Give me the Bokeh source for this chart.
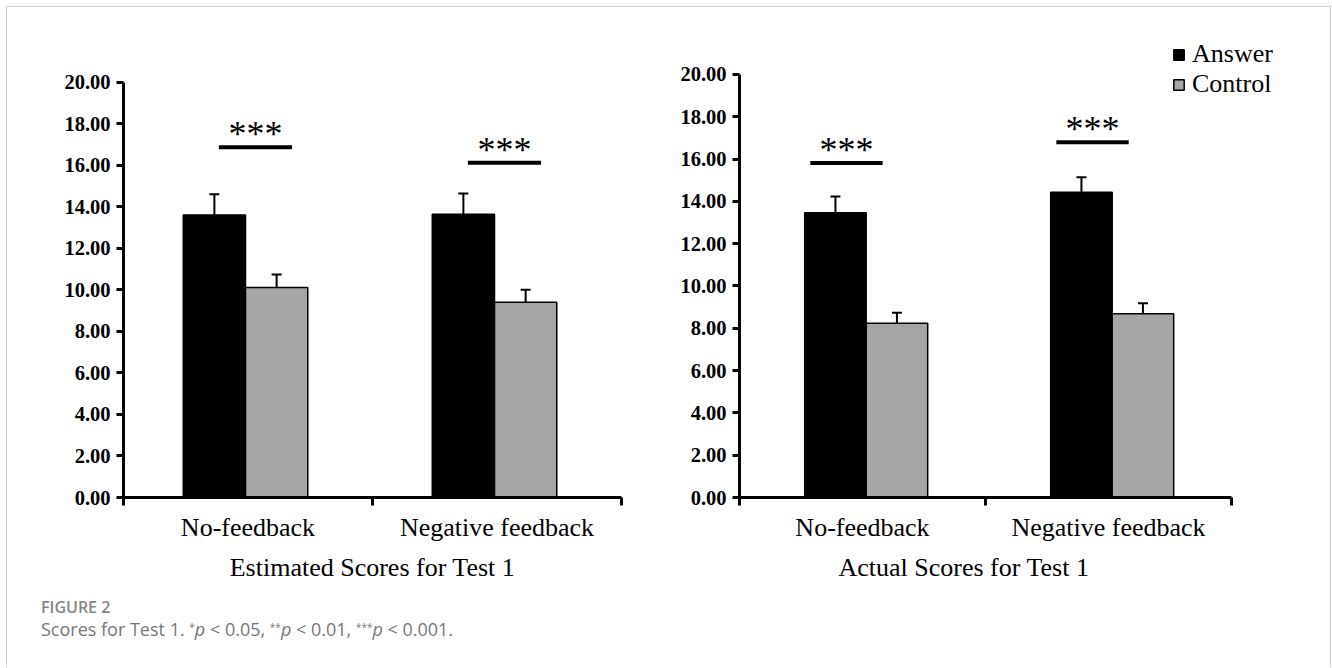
from bokeh.plotting import figure
from bokeh.models import (Range1d, FixedTicker, Whisker, TeeHead, ColumnDataSource,
                          Legend, LegendItem, Div, NumeralTickFormatter, Title)
from bokeh.layouts import row, column
from bokeh.transform import dodge
from bokeh.core.properties import value
from bokeh.embed import file_html
from bokeh.resources import INLINE

# ---------------- data ----------------
categories = ["No-feedback", "Negative feedback"]
groups = ["Answer", "Control"]

est_answer = [13.62, 13.65]
est_answer_err = [1.00, 1.00]
est_control = [10.12, 9.41]
est_control_err = [0.63, 0.60]

act_answer = [13.46, 14.43]
act_answer_err = [0.77, 0.71]
act_control = [8.24, 8.69]
act_control_err = [0.50, 0.50]

est_sig_y = [16.88, 16.13]
act_sig_y = [15.81, 16.80]
sig_labels = ["***", "***"]

yticks = [0, 2, 4, 6, 8, 10, 12, 14, 16, 18, 20]

est_title = "Estimated Scores for Test 1"
act_title = "Actual Scores for Test 1"

SERIF = "Liberation Serif"
BLACK = "#000000"
GRAY = "#a6a6a6"


def make_panel(title, answer, answer_err, control, control_err, sig_y,
               width, ymax, xmax, min_left, min_right, sig_shift, bar_shift,
               title_offset=None, legend=False):
    n = len(categories)
    centers = [i + 0.5 for i in range(n)]
    src = ColumnDataSource(dict(
        x=[c + bar_shift for c in centers],
        answer=answer,
        control=control,
        a_up=[v + e for v, e in zip(answer, answer_err)],
        a_lo=[v - e for v, e in zip(answer, answer_err)],
        c_up=[v + e for v, e in zip(control, control_err)],
        c_lo=[v - e for v, e in zip(control, control_err)],
        sig=sig_y,
        lab=sig_labels,
        sx=[c + sig_shift for c in centers],
        sx0=[c + sig_shift - 0.147 for c in centers],
        sx1=[c + sig_shift + 0.147 for c in centers],
    ))

    p = figure(width=width, height=590, output_backend="svg", toolbar_location=None,
               x_range=Range1d(0, xmax), y_range=Range1d(0, ymax),
               min_border_left=min_left, min_border_right=min_right,
               min_border_top=23, min_border_bottom=100)
    p.outline_line_color = None
    p.grid.grid_line_color = None
    p.background_fill_color = "white"
    p.border_fill_color = "white"

    r_a = p.vbar(x=dodge("x", -0.125), top="answer", width=0.25, source=src,
                 fill_color=BLACK, line_color=BLACK, line_width=1.5)
    r_c = p.vbar(x=dodge("x", 0.125), top="control", width=0.25, source=src,
                 fill_color=GRAY, line_color=BLACK, line_width=1.5)

    for up, lo, off in (("a_up", "a_lo", -0.125), ("c_up", "c_lo", 0.125)):
        w = Whisker(base=dodge("x", off), upper=up, lower=lo, source=src,
                    line_color=BLACK, line_width=2,
                    upper_head=TeeHead(size=10, line_width=2, line_color=BLACK),
                    lower_head=TeeHead(size=10, line_width=2, line_color=BLACK))
        p.add_layout(w)

    p.segment(x0="sx0", x1="sx1", y0="sig", y1="sig", source=src,
              line_color=BLACK, line_width=4)
    p.text(x="sx", y="sig", text="lab", source=src, text_align="center",
           text_baseline="alphabetic", y_offset=-13,
           text_font=value(SERIF), text_font_size="36px", text_color=BLACK)

    # y axis
    ya = p.yaxis[0]
    ya.ticker = FixedTicker(ticks=yticks)
    ya.formatter = NumeralTickFormatter(format="0.00")
    ya.bounds = (0, 20)
    ya.axis_line_width = 3
    ya.major_tick_line_width = 3
    ya.major_tick_out = 7
    ya.major_tick_in = 0
    ya.minor_tick_line_color = None
    ya.major_label_standoff = 6
    ya.major_label_text_font = SERIF
    ya.major_label_text_font_style = "bold"
    ya.major_label_text_font_size = "20.5px"
    ya.major_label_text_color = BLACK

    # x axis: boundary ticks as minor ticks, labels at category centres
    xa = p.xaxis[0]
    xa.ticker = FixedTicker(ticks=centers, minor_ticks=list(range(n + 1)))
    xa.major_label_overrides = {c: cat for c, cat in zip(centers, categories)}
    xa.bounds = (0, n)
    xa.axis_line_width = 3
    xa.major_tick_line_color = None
    xa.major_tick_out = 8
    xa.major_tick_in = 0
    xa.minor_tick_line_width = 3
    xa.minor_tick_out = 8
    xa.minor_tick_in = 0
    xa.major_label_standoff = 7
    xa.major_label_text_font = SERIF
    xa.major_label_text_font_size = "26px"
    xa.major_label_text_color = BLACK
    if title_offset is None:
        xa.axis_label = title
        xa.axis_label_standoff = 8
        xa.axis_label_text_font = SERIF
        xa.axis_label_text_font_style = "normal"
        xa.axis_label_text_font_size = "26px"
        xa.axis_label_text_color = BLACK
    else:
        t = Title(text=title, align="left", offset=title_offset, vertical_align="top",
                  standoff=16, text_font=SERIF, text_font_style="normal",
                  text_font_size="26px", text_color=BLACK)
        p.add_layout(t, "below")

    if legend:
        lg = Legend(items=[LegendItem(label=groups[0], renderers=[r_a]),
                           LegendItem(label=groups[1], renderers=[r_c])],
                    location=(433, 398), padding=0, margin=0, spacing=0,
                    glyph_width=13, glyph_height=13, label_standoff=7,
                    label_text_font=SERIF, label_text_font_size="26px",
                    label_text_color=BLACK, label_height=29,
                    background_fill_alpha=0, border_line_color=None)
        p.add_layout(lg)
    return p


p1 = make_panel(est_title, est_answer, est_answer_err, est_control, est_control_err,
                est_sig_y, width=646, ymax=22.506, xmax=2, min_left=116, min_right=32,
                sig_shift=0.03, bar_shift=-0.01)
p2 = make_panel(act_title, act_answer, act_answer_err, act_control, act_control_err,
                act_sig_y, width=677, ymax=22.08, xmax=2 + 70 / 246, min_left=86, min_right=29,
                sig_shift=-0.065, bar_shift=0.015, title_offset=99, legend=True)

caption = Div(
    text=("<div style=\"font-family:'Open Sans',sans-serif; padding-left:29px; margin-top:-5px;\">"
          "<div style=\"font-size:16px; color:#858585; font-weight:600; line-height:20px;\">FIGURE 2</div>"
          "<div style=\"font-size:18px; color:#777777; line-height:24px;\">Scores for Test 1. "
          "<span style='font-size:10px; vertical-align:0.5em; line-height:0'>*</span><i>p</i> &lt; 0.05, "
          "<span style='font-size:10px; vertical-align:0.5em; line-height:0'>**</span><i>p</i> &lt; 0.01, "
          "<span style='font-size:10px; vertical-align:0.5em; line-height:0'>***</span><i>p</i> &lt; 0.001.</div></div>"),
    width=1300, height=60)

layout = column(row(p1, p2), caption,
                styles={"margin-left": "6px", "margin-top": "6px",
                        "border-top": "1px solid #cfcfcf",
                        "border-left": "1px solid #cfcfcf",
                        "border-right": "1px solid #cfcfcf"})

open("out.html", "w").write(file_html(layout, INLINE))
